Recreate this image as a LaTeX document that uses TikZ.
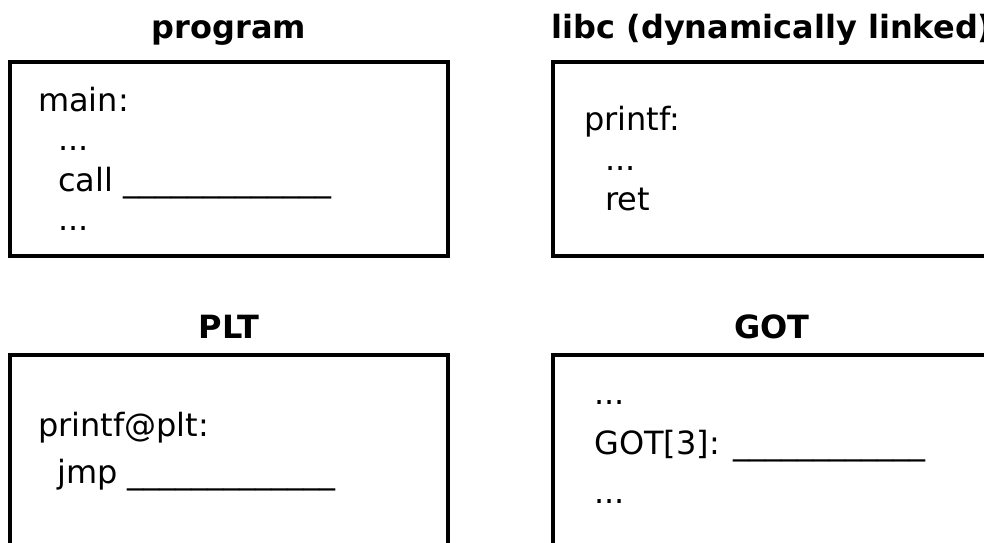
\documentclass[tikz,border=0pt]{standalone}
\usepackage{fontspec}
\setmainfont{DejaVu Sans}
\begin{document}
\begin{tikzpicture}[x=1pt,y=-1pt,
  panel/.style={draw=black, line width=4pt, inner sep=0pt, minimum width=438pt, minimum height=194pt},
  txt/.style={font=\fontsize{32}{38}\selectfont, inner sep=0pt, anchor=base west},
  ttl/.style={font=\fontsize{32}{38}\selectfont\bfseries, inner sep=0pt, anchor=base}]
\useasboundingbox (0,0) rectangle (984,542);
\clip (0,0) rectangle (984,542);
% panels
\node[panel] (prog) at (229,159) {};
\node[panel] (libc) at (772,159) {};
\node[panel] (plt) at (229,452) {};
\node[panel] (got) at (772,452) {};
% titles
\node[ttl] (tprog) at (229,38) {program};
\node[ttl] (tlibc) at (772,38) {libc (dynamically linked)};
\node[ttl] (tplt) at (229,338) {PLT};
\node[ttl] (tgot) at (772,338) {GOT};
% program
\node[txt] (p1) at (38,111) {main:};
\node[txt] (p2) at (58,150) {...};
\node[txt] (p3) at (58,191) {call \_\_\_\_\_\_\_\_\_\_\_\_\_};
\node[txt] (p4) at (58,230) {...};
% libc
\node[txt] (l1) at (584,130) {printf:};
\node[txt] (l2) at (605,170) {...};
\node[txt] (l3) at (605,210) {ret};
% PLT
\node[txt] (q1) at (38,436) {printf@plt:};
\node[txt] (q2) at (57,483) {jmp \_\_\_\_\_\_\_\_\_\_\_\_\_};
% GOT
\node[txt] (g1) at (594,404) {...};
\node[txt] (g2) at (594,454) {GOT[3]: \_\_\_\_\_\_\_\_\_\_\_\_};
\node[txt] (g3) at (594,503) {...};
\end{tikzpicture}
\end{document}
